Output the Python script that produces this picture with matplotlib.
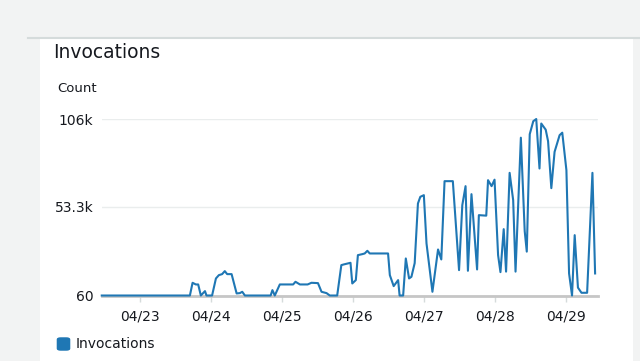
import numpy as np
import pandas as pd
import matplotlib
matplotlib.use("Agg")
import matplotlib.pyplot as plt
import matplotlib.dates as mdates
from matplotlib.patches import Rectangle, FancyBboxPatch

# hours relative to 04/23 00:00 and invocation counts
hours = [-12.9, 16.9, 17.8, 18.9, 19.7, 20.6, 22.0, 22.5, 24.4, 25.7,
         26.7, 27.8, 28.7, 29.5, 31.0, 32.7, 33.8, 34.6, 35.5, 44.2,
         44.8, 45.6, 47.3, 51.8, 52.6, 54.1, 56.7, 58.0, 60.2, 61.4,
         63.1, 64.2, 66.7, 68.1, 68.9, 71.2, 71.8, 73.0, 73.7, 75.2,
         76.0, 76.9, 77.7, 83.9, 84.5, 85.8, 87.3, 87.8, 89.0, 89.9,
         91.0, 91.8, 92.9, 94.0, 94.8, 96.0, 96.9, 98.9, 100.8, 101.9,
         103.0, 105.8, 107.9, 109.0, 110.1, 110.9, 112.1, 114.0, 114.6, 117.1,
         117.7, 118.9, 119.9, 121.1, 121.9, 123.0, 123.8, 125.0, 126.2, 127.0,
         128.8, 130.1, 130.8, 131.8, 133.0, 134.0, 135.1, 135.7, 137.2, 138.0,
         139.1, 140.2, 141.9, 142.8, 144.2, 145.1, 146.1, 147.0, 148.1, 149.3,
         151.2, 153.0, 153.9]
counts = [60, 60, 7700, 6700, 6700, 60, 2700, 60, 60, 10300,
          12300, 12900, 14700, 12900, 12900, 1300, 1500, 2300, 60, 60,
          3300, 60, 6700, 6700, 8300, 6700, 6700, 7700, 7500, 2300,
          1500, 60, 60, 18300, 18700, 19700, 7300, 9300, 24300, 24900,
          25300, 26900, 25300, 25300, 12300, 5700, 9300, 60, 60, 22300,
          10300, 11300, 19500, 55300, 59300, 60300, 31300, 2300, 27700, 21700,
          68700, 68700, 15300, 54300, 65700, 14900, 60900, 15700, 48300, 48000,
          69300, 65700, 69600, 24300, 14100, 39900, 14400, 73700, 57300, 14400,
          94800, 38700, 26400, 96900, 104700, 106000, 76300, 103300, 99600, 92700,
          64500, 86300, 96300, 97800, 75300, 13300, 60, 36300, 4800, 1700,
          1700, 73700, 13300]
ytick_vals = [60, 53300, 106000]
ytick_labels = ["60", "53.3k", "106k"]

base = pd.Timestamp("2024-04-23 00:00")
times = base + pd.to_timedelta(hours, unit="h")

fig = plt.figure(figsize=(6.4, 3.61), dpi=100)
fig.patch.set_facecolor("#f2f3f3")

# white card behind the chart
fig.patches.append(Rectangle((40 / 640, 0), 593 / 640, 323 / 361,
                             transform=fig.transFigure, facecolor="white",
                             edgecolor="none", zorder=-5))
fig.lines.append(plt.Line2D([28 / 640, 1], [323.5 / 361, 323.5 / 361],
                            transform=fig.transFigure, color="#d5dbdb", lw=1.5,
                            zorder=-4))

ax = fig.add_axes([0.159, 0.1814, 0.775, 0.4889])
ax.set_facecolor("none")
ax.plot(times, counts, color="#1f77b4", lw=1.5, clip_on=False, zorder=3)

ax.set_xlim(base + pd.Timedelta(hours=-12.9), base + pd.Timedelta(hours=154.8))
ax.set_ylim(60, 106000)

ax.xaxis.set_major_locator(mdates.DayLocator())
ax.xaxis.set_major_formatter(mdates.DateFormatter("%m/%d"))
ax.set_yticks(ytick_vals)
ax.set_yticklabels(ytick_labels)

for s in ["top", "right", "left"]:
    ax.spines[s].set_visible(False)
ax.spines["bottom"].set_color("#c6c6c6")
ax.spines["bottom"].set_linewidth(2)

ax.grid(axis="y", color="#eaeded", lw=1)
ax.set_axisbelow(True)
ax.tick_params(axis="y", length=0, pad=6, labelsize=10, labelcolor="#16191f")
ax.tick_params(axis="x", length=4, width=1, color="#d5dbdb", pad=6,
               labelsize=10, labelcolor="#16191f")

fig.text(53 / 640, 1 - 53 / 361, "Invocations", fontsize=13.5,
         color="#16191f", va="center", ha="left")
fig.text(57 / 640, 1 - 88 / 361, "Count", fontsize=9.5,
         color="#16191f", va="center", ha="left")

# legend swatch and label
fig.patches.append(FancyBboxPatch((58 / 640, 1 - 350 / 361), 11 / 640, 12 / 361,
                                  boxstyle="round,pad=0.002,rounding_size=0.006",
                                  transform=fig.transFigure,
                                  facecolor="#1f77b4", edgecolor="none"))
fig.text(76 / 640, 1 - 344 / 361, "Invocations", fontsize=10,
         color="#16191f", va="center", ha="left")

fig.savefig("out.png", dpi=100, facecolor=fig.get_facecolor())
